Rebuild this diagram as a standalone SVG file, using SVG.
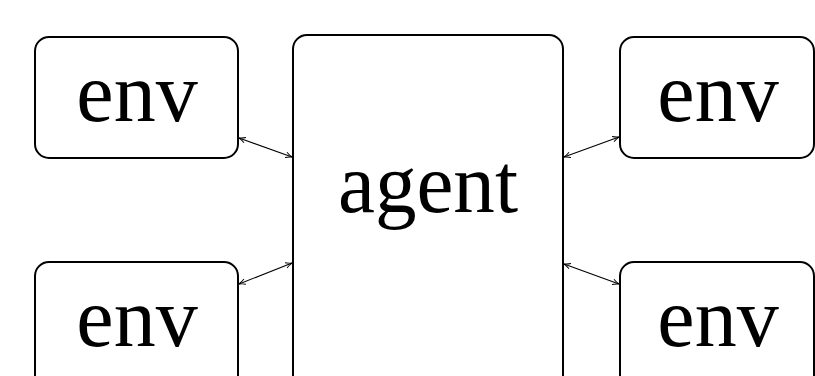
<svg xmlns="http://www.w3.org/2000/svg" width="815" height="376" viewBox="0 0 815 376">
<style>
.box{fill:#fff;stroke:#000;stroke-width:2}
.lbl{font-family:"Liberation Serif","DejaVu Serif",serif;font-size:84px;fill:#000;text-anchor:middle}
.arr{stroke:#000;stroke-width:1.1;fill:none;marker-start:url(#ah);marker-end:url(#ah)}
</style>
<defs>
<marker id="ah" viewBox="0 0 10 10" refX="9" refY="5" markerWidth="8" markerHeight="8" markerUnits="userSpaceOnUse" orient="auto-start-reverse">
<path d="M1,1.5 Q5,4 9.5,5 Q5,6 1,8.5" fill="none" stroke="#000" stroke-width="1.2"/>
</marker>
</defs>
<g id="env-tl"><rect class="box" x="35" y="37" width="203" height="121" rx="14"/><text class="lbl" x="137" y="121">env</text></g>
<g id="env-bl"><rect class="box" x="35" y="262" width="203" height="130" rx="14"/><text class="lbl" x="137" y="346">env</text></g>
<g id="agent"><rect class="box" x="293" y="35" width="270" height="360" rx="14"/><text class="lbl" x="428" y="212" textLength="180" lengthAdjust="spacingAndGlyphs">agent</text></g>
<g id="env-tr"><rect class="box" x="620" y="37" width="194" height="121" rx="14"/><text class="lbl" x="718" y="121">env</text></g>
<g id="env-br"><rect class="box" x="620" y="262" width="194" height="130" rx="14"/><text class="lbl" x="718" y="346">env</text></g>
<g id="connectors">
<line class="arr" x1="239" y1="138" x2="292" y2="157"/>
<line class="arr" x1="239" y1="284" x2="292" y2="263"/>
<line class="arr" x1="564" y1="157" x2="619" y2="137"/>
<line class="arr" x1="564" y1="264" x2="619" y2="284"/>
</g>
</svg>
